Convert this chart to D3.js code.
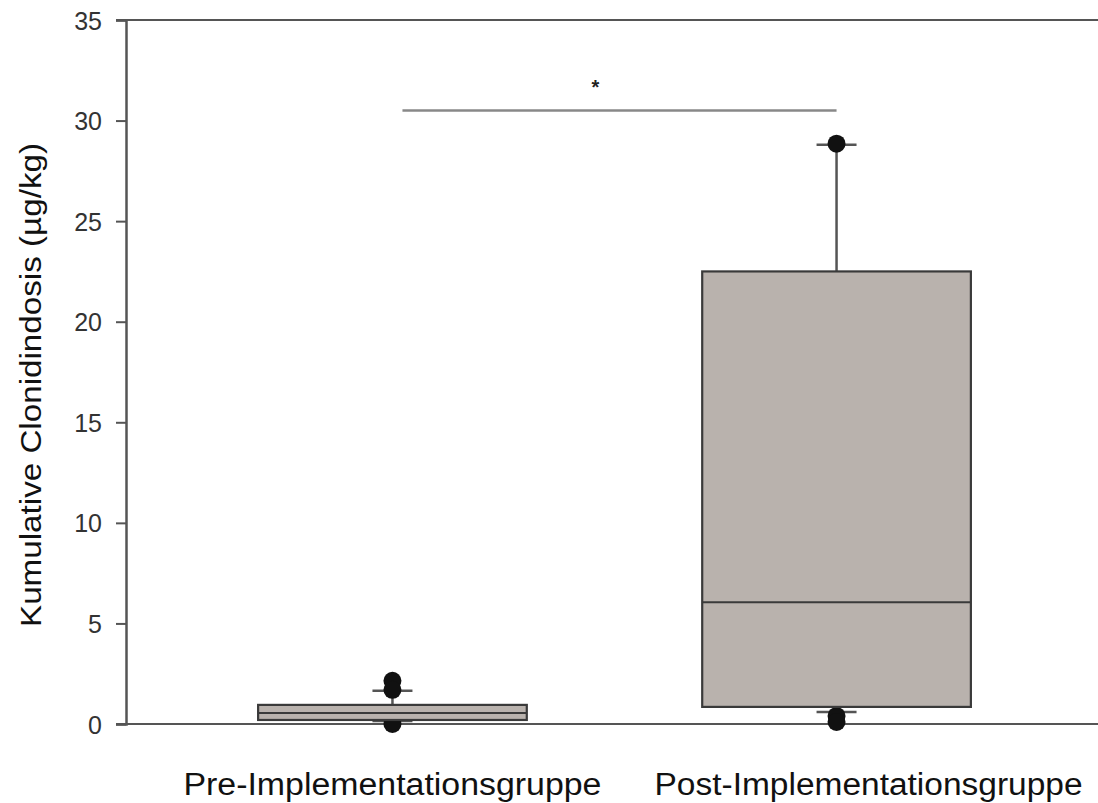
<!DOCTYPE html>
<html><head><meta charset="utf-8">
<script src="https://cdn.jsdelivr.net/npm/d3@7"></script>
<style>body{margin:0;background:#fff}svg{display:block}text{font-family:Arial,"Liberation Sans",sans-serif}</style>
</head><body>
<svg id="c" width="1098" height="803"></svg>
<script>
const groups = ["Pre-Implementationsgruppe", "Post-Implementationsgruppe"];
const q1 = [0.2, 0.85];
const medians = [0.55, 6.05];
const q3 = [0.95, 22.5];
const whiskerLow = [0.15, 0.6];
const whiskerHigh = [1.65, 28.8];
const outliers = [[2.15, 1.7, 0.0], [28.85, 0.4, 0.1]];
const yTicks = [0, 5, 10, 15, 20, 25, 30, 35];
const sigLevel = 30.5;
const sigLabel = "*";
const yLabel = "Kumulative Clonidindosis (µg/kg)";

const svg = d3.select("#c");
const mLeft = 126, mTop = 20, mBottom = 724, mRight = 1103;
const y = d3.scaleLinear().domain([0, 35]).range([mBottom, mTop]);
const x = d3.scalePoint().domain(groups).range([mLeft, mRight]).padding(0.6);
const boxW = x.step() * 0.605, capW = 40;

// frame lines
svg.append("line").attr("x1", mLeft - 10).attr("x2", 1098).attr("y1", y(35)).attr("y2", y(35))
  .attr("stroke", "#555").attr("stroke-width", 2);
svg.append("line").attr("x1", mLeft - 10).attr("x2", 1098).attr("y1", y(0)).attr("y2", y(0))
  .attr("stroke", "#555").attr("stroke-width", 2);

// y axis
const ya = svg.append("g").attr("transform", `translate(${mLeft},0)`)
  .call(d3.axisLeft(y).tickValues(yTicks).tickSize(10).tickPadding(14));
ya.select(".domain").attr("stroke", "#555").attr("stroke-width", 2.5);
ya.selectAll(".tick line").attr("stroke", "#555").attr("stroke-width", 2);
ya.selectAll(".tick text").attr("fill", "#333").style("font-size", "25px").attr("dy", "0.36em");

// y label
svg.append("text").attr("transform", `translate(41,385) rotate(-90)`)
  .attr("text-anchor", "middle").style("font-size", "30px").attr("fill", "#111")
  .attr("textLength", 484).attr("lengthAdjust", "spacingAndGlyphs").text(yLabel);

// x labels
svg.selectAll(".xl").data(groups).enter().append("text").attr("class", "xl")
  .attr("x", (d, i) => x(d) + (i === 1 ? 32 : 0)).attr("y", 795)
  .attr("text-anchor", "middle").style("font-size", "31px").attr("fill", "#111")
  .attr("textLength", (d, i) => i === 0 ? 418 : 428).attr("lengthAdjust", "spacingAndGlyphs").text(d => d);

// whiskers and outliers
groups.forEach((g, i) => {
  const cx = x(g);
  const gg = svg.append("g");
  gg.append("line").attr("x1", cx).attr("x2", cx).attr("y1", y(q3[i])).attr("y2", y(whiskerHigh[i]))
    .attr("stroke", "#555").attr("stroke-width", 2.5);
  gg.append("line").attr("x1", cx).attr("x2", cx).attr("y1", y(q1[i])).attr("y2", y(whiskerLow[i]))
    .attr("stroke", "#555").attr("stroke-width", 2.5);
  [whiskerHigh[i], whiskerLow[i]].forEach(v => {
    gg.append("line").attr("x1", cx - capW / 2).attr("x2", cx + capW / 2).attr("y1", y(v)).attr("y2", y(v))
      .attr("stroke", "#555").attr("stroke-width", 2.5);
  });
  gg.selectAll("circle").data(outliers[i]).enter().append("circle")
    .attr("cx", cx).attr("cy", d => y(d)).attr("r", 9).attr("fill", "#111");
});

// boxes
groups.forEach((g, i) => {
  const cx = x(g);
  svg.append("rect").attr("x", cx - boxW / 2).attr("width", boxW)
    .attr("y", y(q3[i])).attr("height", y(q1[i]) - y(q3[i]))
    .attr("fill", "#b9b2ad").attr("stroke", "#3a3a3a").attr("stroke-width", 2.2);
  svg.append("line").attr("x1", cx - boxW / 2).attr("x2", cx + boxW / 2)
    .attr("y1", y(medians[i])).attr("y2", y(medians[i])).attr("stroke", "#3a3a3a").attr("stroke-width", 2);
});

// significance bar
svg.append("line").attr("x1", x(groups[0]) + 10).attr("x2", x(groups[1]))
  .attr("y1", y(sigLevel)).attr("y2", y(sigLevel)).attr("stroke", "#888").attr("stroke-width", 2.5);
svg.append("text").attr("x", (x(groups[0]) + 10 + x(groups[1])) / 2 - 24).attr("y", y(sigLevel) - 17)
  .attr("text-anchor", "middle").style("font-size", "20px").style("font-weight", "bold").attr("fill", "#222").text(sigLabel);
</script>
</body></html>
